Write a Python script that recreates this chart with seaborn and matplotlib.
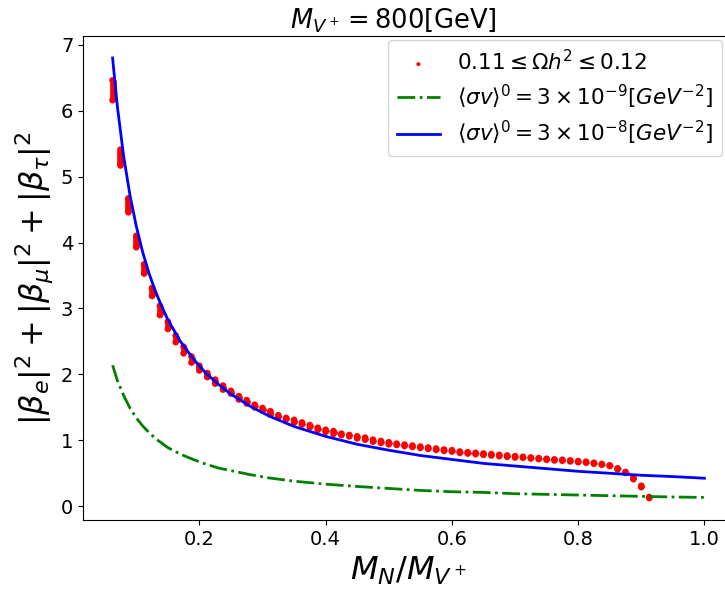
import matplotlib
matplotlib.use("Agg")
import matplotlib.pyplot as plt
import numpy as np
import pandas as pd
import seaborn as sns

M_V = 800.0

# relic density scan: M_N in GeV, upper / lower edge of the allowed band
m_n = [50, 60, 70, 80, 90, 100, 110, 120, 130, 140, 150, 160, 170, 180, 190,
       200, 210, 220, 230, 240, 250, 260, 270, 280, 290, 300, 310, 320, 330,
       340, 350, 360, 370, 380, 390, 400, 410, 420, 430, 440, 450, 460, 470,
       480, 490, 500, 510, 520, 530, 540, 550, 560, 570, 580, 590, 600, 610,
       620, 630, 640, 650, 660, 670, 680, 690, 700, 710, 720, 730]
beta_hi = [6.46, 5.41, 4.67, 4.10, 3.67, 3.31, 3.04, 2.80, 2.59, 2.42, 2.27,
           2.13, 2.02, 1.92, 1.83, 1.75, 1.67, 1.61, 1.54, 1.49, 1.44, 1.38,
           1.34, 1.31, 1.27, 1.23, 1.19, 1.16, 1.14, 1.10, 1.08, 1.06, 1.04,
           1.01, 0.99, 0.97, 0.95, 0.935, 0.92, 0.905, 0.89, 0.875, 0.86,
           0.85, 0.83, 0.82, 0.81, 0.80, 0.79, 0.78, 0.77, 0.76, 0.75, 0.74,
           0.73, 0.72, 0.71, 0.705, 0.695, 0.685, 0.675, 0.66, 0.64, 0.62,
           0.575, 0.52, 0.43, 0.31, 0.14]
beta_lo = [6.16, 5.17, 4.46, 3.93, 3.53, 3.19, 2.90, 2.69, 2.49, 2.32, 2.18,
           2.06, 1.96, 1.86, 1.77, 1.71, 1.62, 1.56, 1.50, 1.45, 1.39, 1.35,
           1.32, 1.27, 1.24, 1.20, 1.16, 1.13, 1.10, 1.08, 1.06, 1.03, 1.01,
           0.98, 0.96, 0.94, 0.93, 0.915, 0.90, 0.885, 0.87, 0.855, 0.84,
           0.83, 0.81, 0.80, 0.79, 0.78, 0.77, 0.76, 0.75, 0.74, 0.735, 0.725,
           0.715, 0.705, 0.695, 0.69, 0.68, 0.67, 0.66, 0.645, 0.63, 0.61,
           0.56, 0.505, 0.41, 0.29, 0.125]

# <sigma v>^0 curves
x_line = [0.0625, 0.07, 0.08, 0.09, 0.10, 0.11, 0.12, 0.13, 0.14, 0.15, 0.17,
          0.19, 0.21, 0.23, 0.25, 0.28, 0.31, 0.35, 0.40, 0.45, 0.50, 0.55,
          0.60, 0.65, 0.70, 0.75, 0.80, 0.85, 0.90, 0.95, 1.00]
sv_1e8 = [6.80, 6.07, 5.31, 4.72, 4.25, 3.86, 3.54, 3.27, 3.04, 2.83, 2.50,
          2.24, 2.02, 1.85, 1.70, 1.52, 1.37, 1.21, 1.06, 0.94, 0.85, 0.77,
          0.71, 0.65, 0.61, 0.57, 0.53, 0.50, 0.47, 0.45, 0.425]
sv_1e9 = [2.14, 1.91, 1.68, 1.49, 1.34, 1.22, 1.12, 1.03, 0.96, 0.89, 0.79,
          0.71, 0.64, 0.58, 0.54, 0.48, 0.43, 0.38, 0.335, 0.30, 0.27, 0.24,
          0.22, 0.21, 0.19, 0.18, 0.17, 0.16, 0.15, 0.14, 0.134]

df = pd.DataFrame({"x": np.array(m_n) / M_V, "hi": beta_hi, "lo": beta_lo})

fig = plt.figure(figsize=(7.25, 5.93), dpi=100)
ax = fig.add_axes([83 / 725, 73 / 593, 651 / 725, 484 / 593])

# band between lower and upper edge at each mass point
ax.vlines(df["x"], df["lo"], df["hi"], color="red", linewidth=4.8,
          capstyle="butt")
sns.scatterplot(data=df, x="x", y="lo", color="red", s=23, edgecolor="none",
                label=r"$0.11 \leq \Omega h^2 \leq 0.12$", ax=ax)
sns.scatterplot(data=df, x="x", y="hi", color="red", s=23, edgecolor="none",
                legend=False, ax=ax)

sns.lineplot(x=x_line, y=sv_1e9, color="green", linestyle="-.", linewidth=2,
             label=r"$\langle\sigma v\rangle^0 = 3\times10^{-9}[GeV^{-2}]$",
             ax=ax)
sns.lineplot(x=x_line, y=sv_1e8, color="blue", linewidth=2,
             label=r"$\langle\sigma v\rangle^0 = 3\times10^{-8}[GeV^{-2}]$",
             ax=ax)

ax.set_xticks([0.2, 0.4, 0.6, 0.8, 1.0])
ax.tick_params(labelsize=14)
ax.set_xlabel(r"$M_N/M_{V^+}$", fontsize=23)
ax.set_ylabel(r"$|\beta_e|^2+|\beta_\mu|^2+|\beta_\tau|^2$", fontsize=23)
ax.set_title(r"$M_{V^+} = 800$[GeV]", fontsize=18.5, x=0.477)
ax.legend(loc="upper right", fontsize=15.5, markerscale=0.6,
          labelspacing=0.4, borderaxespad=0,
          bbox_to_anchor=(722 / 725, 1 - 40 / 593),
          bbox_transform=fig.transFigure)

plt.savefig("out.png", dpi=100)
